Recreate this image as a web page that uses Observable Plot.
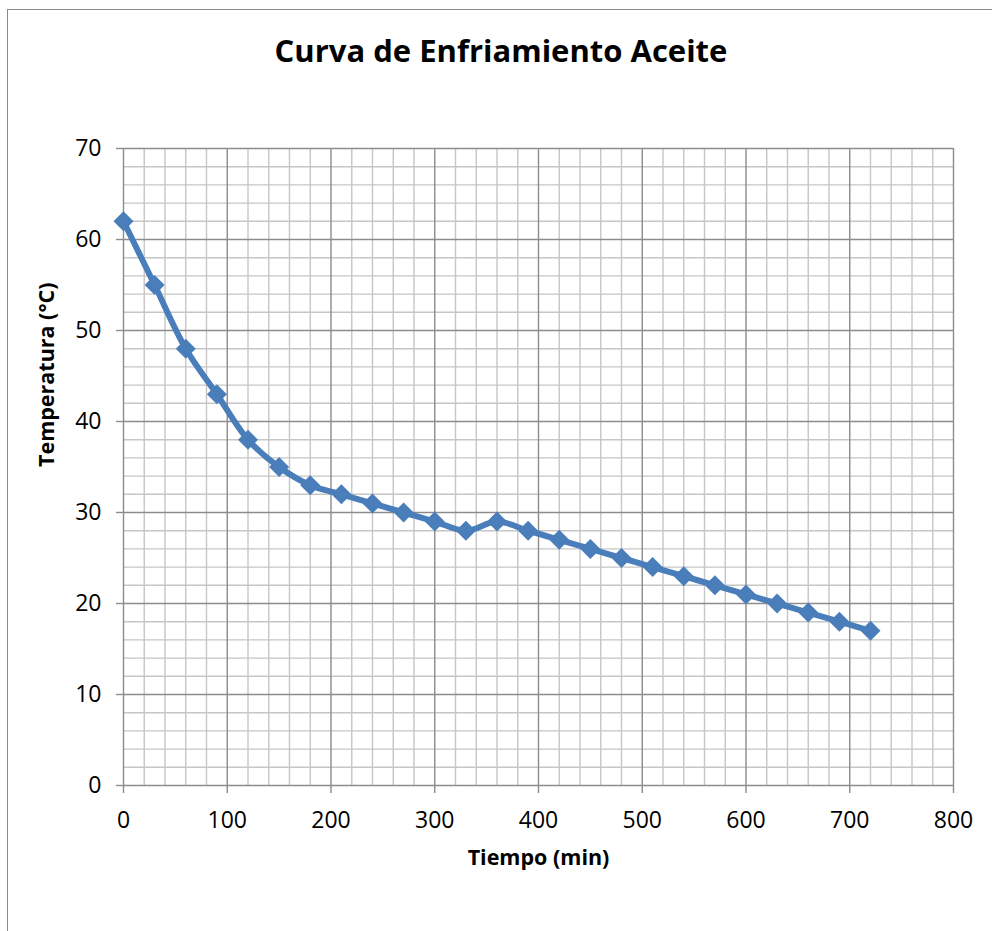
<!DOCTYPE html>
<html>
<head>
<meta charset="utf-8">
<script src="https://cdn.jsdelivr.net/npm/d3@7"></script>
<script src="https://cdn.jsdelivr.net/npm/@observablehq/plot@0.6"></script>
<style>
  html, body { margin: 0; padding: 0; background: #fff; overflow: hidden; }
  body { width: 992px; height: 931px; position: relative; font-family: "Open Sans", sans-serif; }
  #frame { position: absolute; left: 7px; top: 9px; width: 1100px; height: 1100px; border: 1.5px solid #8a8a8a; box-sizing: border-box; }
  #title { position: absolute; left: 0; width: 1002px; top: 29px; text-align: center; font-weight: 700; font-size: 31px; color: #000; margin: 0; }
  #chart { position: absolute; left: 0; top: 0; }
</style>
</head>
<body>
<div id="frame"></div>
<div id="title">Curva de Enfriamiento Aceite</div>
<div id="chart"></div>
<script>
// Cooling curve of the oil: time in minutes, temperature in °C
const tiempo = [0, 30, 60, 90, 120, 150, 180, 210, 240, 270, 300, 330, 360, 390, 420, 450, 480, 510, 540, 570, 600, 630, 660, 690, 720];
const temperatura = [62, 55, 48, 43, 38, 35, 33, 32, 31, 30, 29, 28, 29, 28, 27, 26, 25, 24, 23, 22, 21, 20, 19, 18, 17];

const xTicks = [0, 100, 200, 300, 400, 500, 600, 700, 800];
const yTicks = [0, 10, 20, 30, 40, 50, 60, 70];

const data = tiempo.map((t, i) => ({tiempo: t, temperatura: temperatura[i]}));

// minor grid every 20 min and every 2 °C
const xMinor = d3.range(0, 801, 20).filter(v => v % 100 !== 0);
const yMinor = d3.range(0, 71, 2).filter(v => v % 10 !== 0);

const blue = "#4a7ebb";
const major = "#8c8c8c";
const minor = "#c6c6c6";

const chart = Plot.plot({
  width: 992,
  height: 931,
  marginLeft: 123,
  marginRight: 39,
  marginTop: 148,
  marginBottom: 146,
  style: {fontFamily: "Open Sans, sans-serif", background: "transparent"},
  x: {type: "linear", domain: [0, 800], axis: null},
  y: {type: "linear", domain: [0, 70], axis: null},
  marks: [
    Plot.ruleX(xMinor, {x: d => d, y1: 0, y2: 70, stroke: minor, strokeWidth: 1.4}),
    Plot.ruleY(yMinor, {y: d => d, x1: 0, x2: 800, stroke: minor, strokeWidth: 1.4}),
    Plot.ruleX(xTicks, {x: d => d, y1: 0, y2: 70, stroke: major, strokeWidth: 1.4}),
    Plot.ruleY(yTicks, {y: d => d, x1: 0, x2: 800, stroke: major, strokeWidth: 1.4}),
    Plot.axisX(xTicks, {tickSize: 8, tickPadding: 18, stroke: major, strokeWidth: 1.4, fontSize: 23, fill: "#000", tickFormat: d => d, label: null}),
    Plot.axisY(yTicks, {tickSize: 7, tickPadding: 15, stroke: major, strokeWidth: 1.4, fontSize: 23, fill: "#000", tickFormat: d => d, label: null}),
    Plot.line(data, {x: "tiempo", y: "temperatura", stroke: blue, strokeWidth: 6, curve: "catmull-rom"}),
    Plot.dot(data, {x: "tiempo", y: "temperatura", symbol: "diamond2", r: 9, fill: blue, stroke: null}),
    Plot.text(["Tiempo (min)"], {frameAnchor: "bottom", dy: 79, fontSize: 21.5, fontWeight: "bold", fill: "#000", text: d => d}),
    Plot.text(["Temperatura (°C)"], {frameAnchor: "left", dx: -76, rotate: -90, fontSize: 21.5, fontWeight: "bold", fill: "#000", text: d => d})
  ]
});
document.getElementById("chart").appendChild(chart);
</script>
</body>
</html>
